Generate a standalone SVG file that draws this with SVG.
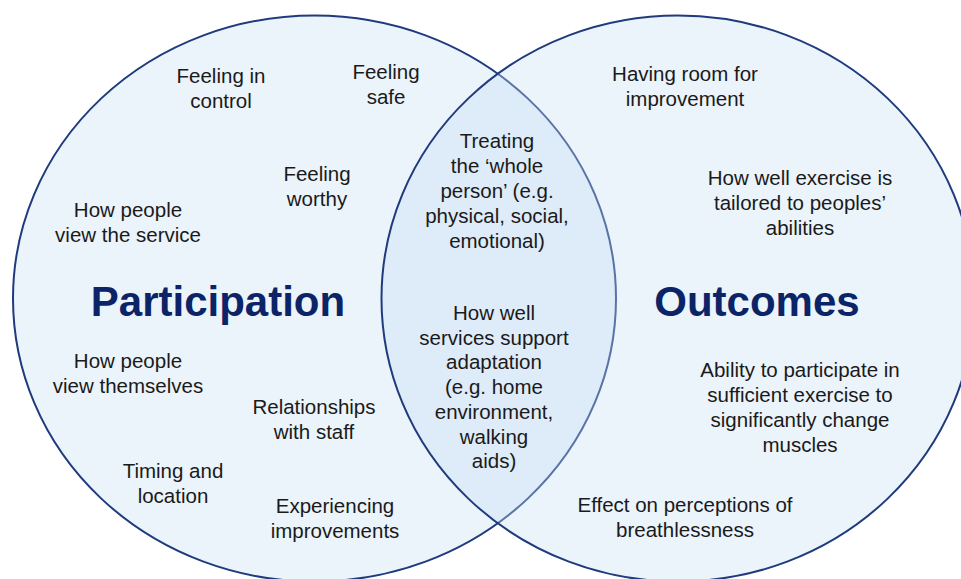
<svg xmlns="http://www.w3.org/2000/svg" width="961" height="579" viewBox="0 0 961 579">
<style>
.t{font-family:"Liberation Sans",Arial,sans-serif;font-size:20.5px;fill:#1a1a1a;text-anchor:middle}
.h{font-family:"Liberation Sans",Arial,sans-serif;font-size:42px;font-weight:bold;fill:#0b2468;text-anchor:middle}
.e{stroke:#1f3b7d;stroke-width:2}
</style>
<rect width="961" height="579" fill="#ffffff"/>
<g id="set-participation">
<ellipse class="e" cx="314.5" cy="298.5" rx="301.5" ry="283" fill="#ebf3fb"/>
</g>
<g id="set-outcomes">
<ellipse class="e" cx="678" cy="298.5" rx="296.5" ry="283" fill="#c6ddf4" fill-opacity="0.35"/>
</g>
<g id="labels">
<text class="h" x="218" y="316">Participation</text>
<text class="h" x="757" y="316">Outcomes</text>
</g>
<g id="participation-items">
<text class="t" x="221" y="83">Feeling in<tspan x="221" dy="25">control</tspan></text>
<text class="t" x="386" y="79">Feeling<tspan x="386" dy="25">safe</tspan></text>
<text class="t" x="317" y="181">Feeling<tspan x="317" dy="25">worthy</tspan></text>
<text class="t" x="128" y="217">How people<tspan x="128" dy="25">view the service</tspan></text>
<text class="t" x="128" y="368">How people<tspan x="128" dy="25">view themselves</tspan></text>
<text class="t" x="314" y="414">Relationships<tspan x="314" dy="25">with staff</tspan></text>
<text class="t" x="173" y="478">Timing and<tspan x="173" dy="25">location</tspan></text>
<text class="t" x="335" y="513">Experiencing<tspan x="335" dy="25">improvements</tspan></text>
</g>
<g id="shared-items">
<text class="t" x="497" y="148">Treating<tspan x="497" dy="25">the ‘whole</tspan><tspan x="497" dy="25">person’ (e.g.</tspan><tspan x="497" dy="25">physical, social,</tspan><tspan x="497" dy="25">emotional)</tspan></text>
<text class="t" x="494" y="320">How well<tspan x="494" dy="24.7">services support</tspan><tspan x="494" dy="24.7">adaptation</tspan><tspan x="494" dy="24.7">(e.g. home</tspan><tspan x="494" dy="24.7">environment,</tspan><tspan x="494" dy="24.7">walking</tspan><tspan x="494" dy="24.7">aids)</tspan></text>
</g>
<g id="outcomes-items">
<text class="t" x="685" y="81">Having room for<tspan x="685" dy="25">improvement</tspan></text>
<text class="t" x="800" y="185">How well exercise is<tspan x="800" dy="25">tailored to peoples’</tspan><tspan x="800" dy="25">abilities</tspan></text>
<text class="t" x="800" y="377">Ability to participate in<tspan x="800" dy="25">sufficient exercise to</tspan><tspan x="800" dy="25">significantly change</tspan><tspan x="800" dy="25">muscles</tspan></text>
<text class="t" x="685" y="512">Effect on perceptions of<tspan x="685" dy="25">breathlessness</tspan></text>
</g>
<g id="connectors"></g>
</svg>
